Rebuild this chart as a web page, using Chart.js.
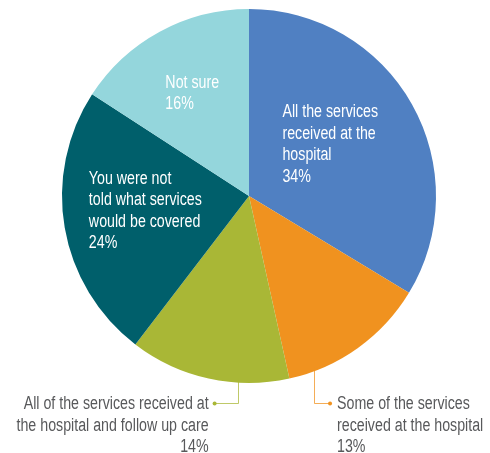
<!DOCTYPE html>
<html>
<head>
<meta charset="utf-8">
<title>Coverage of hospital services</title>
<script src="https://cdn.jsdelivr.net/npm/chart.js@4.4.1/dist/chart.umd.min.js"></script>
<style>
  html, body { margin: 0; padding: 0; background: #fff; }
  #chart { display: block; }
</style>
</head>
<body>
<canvas id="chart" width="490" height="453"></canvas>
<script>
// slices run clockwise from 12 o'clock
var categories = [
    ['All the services', 'received at the', 'hospital'],
    ['Some of the services', 'received at the hospital'],
    ['All of the services received at', 'the hospital and follow up care'],
    ['You were not', 'told what services', 'would be covered'],
    ['Not sure']
];
var shares = [34, 13, 14, 24, 16];
var sliceColors = ['#5080c2', '#f0921f', '#a9b736', '#005f6b', '#94d6dc'];

var FONT = '18px "Liberation Sans", Arial, sans-serif';
var SQUEEZE = 0.79;   // condensed look
var LINE_H = 21.5;

// inside labels: offset from slice centroid to the first baseline (left aligned)
// outside labels: leader line from a point along the arc, elbow, dot, then text
var labelStyle = [
    { inside: true, dx: -48, dy: -33 },
    { inside: false, t: 0.83, elbowY: 403, dir: 1, len: 16, gap: 7 },
    { inside: false, t: 0.32, elbowY: 403, dir: -1, len: 23, gap: 6 },
    { inside: true, dx: -68, dy: -28 },
    { inside: true, dx: -39, dy: -26 }
];

function squeezedText(ctx, s, x, y) {
    ctx.save();
    ctx.translate(x, y);
    ctx.scale(SQUEEZE, 1);
    ctx.fillText(s, 0, 0);
    ctx.restore();
}

var sliceLabels = {
    id: 'sliceLabels',
    afterDatasetsDraw: function(chart) {
        var ctx = chart.ctx;
        var meta = chart.getDatasetMeta(0);
        ctx.save();
        ctx.font = FONT;
        ctx.textBaseline = 'alphabetic';
        meta.data.forEach(function(arc, i) {
            var st = labelStyle[i];
            var lines = categories[i].concat([shares[i] + '%']);
            if (st.inside) {
                var c = arc.tooltipPosition();
                ctx.fillStyle = '#ffffff';
                ctx.textAlign = 'left';
                lines.forEach(function(s, k) {
                    squeezedText(ctx, s, c.x + st.dx, c.y + st.dy + k * LINE_H);
                });
                return;
            }
            // point on the outer edge of the slice
            var a = arc.startAngle + (arc.endAngle - arc.startAngle) * st.t;
            var px = arc.x + Math.cos(a) * arc.outerRadius;
            var py = arc.y + Math.sin(a) * arc.outerRadius;
            var ex = px + st.dir * st.len;
            ctx.strokeStyle = sliceColors[i];
            ctx.lineWidth = 1;
            ctx.globalAlpha = 0.75;
            ctx.beginPath();
            ctx.moveTo(Math.round(px) + 0.5, py - 4);
            ctx.lineTo(Math.round(px) + 0.5, st.elbowY + 0.5);
            ctx.lineTo(ex, st.elbowY + 0.5);
            ctx.stroke();
            ctx.globalAlpha = 1;
            ctx.fillStyle = sliceColors[i];
            ctx.beginPath();
            ctx.arc(ex, st.elbowY + 0.5, 2, 0, Math.PI * 2);
            ctx.fill();
            ctx.fillStyle = '#58595b';
            ctx.textAlign = st.dir > 0 ? 'left' : 'right';
            var tx = ex + st.dir * st.gap;
            lines.forEach(function(s, k) {
                squeezedText(ctx, s, tx, st.elbowY + 6 + k * LINE_H);
            });
        });
        ctx.restore();
    }
};

new Chart(document.getElementById('chart'), {
    type: 'pie',
    data: {
        labels: categories.map(function(c) { return c.join(' '); }),
        datasets: [{
            data: shares,
            backgroundColor: sliceColors,
            borderWidth: 0
        }]
    },
    options: {
        responsive: false,
        animation: false,
        layout: { padding: { top: 9, bottom: 70, left: 62, right: 54 } },
        plugins: {
            legend: { display: false },
            tooltip: { enabled: false }
        }
    },
    plugins: [sliceLabels]
});
</script>
</body>
</html>
